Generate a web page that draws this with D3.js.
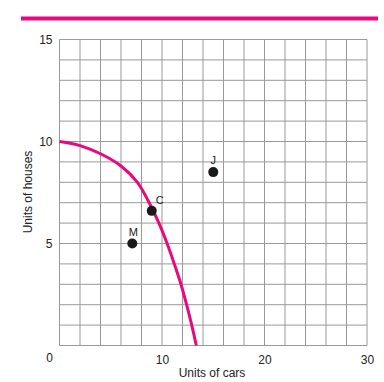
<!DOCTYPE html>
<html>
<head>
<meta charset="utf-8">
<script src="https://cdn.jsdelivr.net/npm/d3@7"></script>
<style>
  html, body { margin: 0; padding: 0; background: #fff; }
  svg { display: block; }
  text { font-family: "Liberation Sans", Arial, sans-serif; fill: #222; }
</style>
</head>
<body>
<svg id="chart" width="384" height="382"></svg>
<script>
// Production possibilities frontier (cars vs houses)
const curveCars   = [0, 2, 4, 6, 7.6, 8.75, 9.7, 10.5, 11.2, 11.85, 12.4, 12.9, 13.35];
const curveHouses = [10, 9.8, 9.4, 8.8, 8, 7, 6, 5, 4, 3, 2, 1, 0];

const pointLabels = ["J", "C", "M"];
const pointCars   = [15, 9, 7.1];
const pointHouses = [8.5, 6.6, 5];

const xTicks = [0, 10, 20, 30];
const yTicks = [5, 10, 15];

const svg = d3.select("#chart");
const pink = "#e8097f";

const x = d3.scaleLinear().domain([0, 30]).range([59.5, 367]);
const y = d3.scaleLinear().domain([0, 15]).range([345.5, 39.5]);

// top decorative rule
svg.append("line")
  .attr("x1", 21).attr("x2", 378)
  .attr("y1", 18.5).attr("y2", 18.5)
  .attr("stroke", pink).attr("stroke-width", 4);

// grid
const grid = svg.append("g").attr("stroke", "#999").attr("stroke-width", 1);
grid.selectAll("line.v").data(d3.range(0, 31, 2)).join("line")
  .attr("class", "v")
  .attr("x1", d => x(d)).attr("x2", d => x(d))
  .attr("y1", y(0)).attr("y2", y(15));
grid.selectAll("line.h").data(d3.range(0, 16, 1)).join("line")
  .attr("class", "h")
  .attr("x1", x(0)).attr("x2", x(30))
  .attr("y1", d => y(d)).attr("y2", d => y(d));

// axes tick labels
const xAxis = d3.axisBottom(x).tickValues(xTicks.filter(d => d > 0)).tickSize(0).tickPadding(10);
const gx = svg.append("g").attr("transform", `translate(0,${y(0)})`).call(xAxis);
gx.select(".domain").remove();
gx.selectAll("text").attr("font-size", 12).attr("fill", "#222")
  .attr("font-family", "Liberation Sans, Arial, sans-serif");

const yAxis = d3.axisLeft(y).tickValues(yTicks).tickSize(0).tickPadding(7);
const gy = svg.append("g").attr("transform", `translate(${x(0)},0)`).call(yAxis);
gy.select(".domain").remove();
gy.selectAll("text").attr("font-size", 12).attr("fill", "#222")
  .attr("font-family", "Liberation Sans, Arial, sans-serif");

// origin label
svg.append("text")
  .attr("x", 53).attr("y", 362)
  .attr("text-anchor", "end")
  .attr("font-size", 12)
  .text(xTicks[0]);

// axis titles
svg.append("text")
  .attr("x", 212).attr("y", 377)
  .attr("text-anchor", "middle")
  .attr("font-size", 12)
  .text("Units of cars");
svg.append("text")
  .attr("transform", "translate(32,192) rotate(-90)")
  .attr("text-anchor", "middle")
  .attr("font-size", 12)
  .text("Units of houses");

// frontier curve
const curveData = curveCars.map((c, i) => [c, curveHouses[i]]);
svg.append("path")
  .datum(curveData)
  .attr("fill", "none")
  .attr("stroke", pink)
  .attr("stroke-width", 3)
  .attr("d", d3.line().x(d => x(d[0])).y(d => y(d[1])).curve(d3.curveCatmullRom.alpha(0.5)));

// points
const pts = pointLabels.map((l, i) => ({ label: l, cx: pointCars[i], hy: pointHouses[i] }));
svg.selectAll("circle.pt").data(pts).join("circle")
  .attr("class", "pt")
  .attr("cx", d => x(d.cx)).attr("cy", d => y(d.hy))
  .attr("r", 5).attr("fill", "#1a1a1a");

const labelOffset = { J: [0, -8], C: [8, -7], M: [1, -8] };
svg.selectAll("text.pl").data(pts).join("text")
  .attr("class", "pl")
  .attr("x", d => x(d.cx) + labelOffset[d.label][0])
  .attr("y", d => y(d.hy) + labelOffset[d.label][1])
  .attr("text-anchor", "middle")
  .attr("font-size", 11)
  .text(d => d.label);
</script>
</body>
</html>
